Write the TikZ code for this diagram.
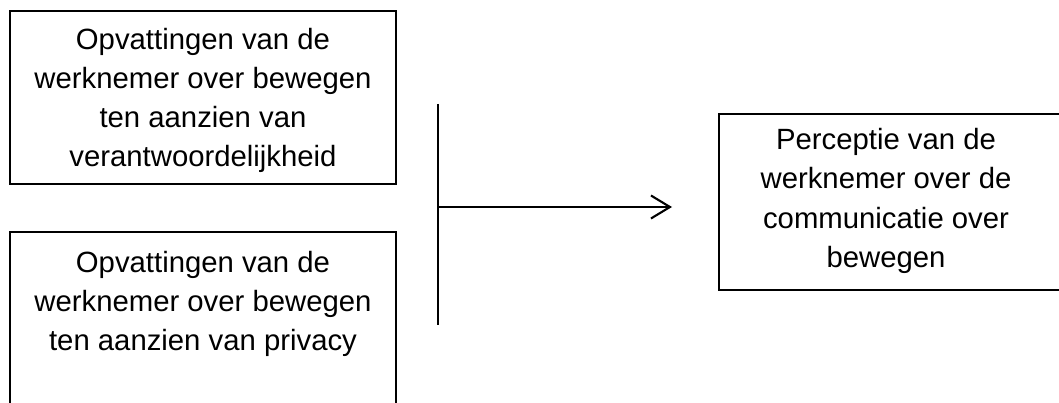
\documentclass[tikz,border=0pt]{standalone}
\usepackage{fontspec}
\setmainfont{Liberation Sans}
\usetikzlibrary{arrows.meta}
\begin{document}
\begin{tikzpicture}[x=1pt,y=-1pt,
  frame/.style={line width=1.8pt},
  label/.style={anchor=base,align=center,inner sep=0pt,
    font=\fontsize{29.3}{39}\selectfont},
  link/.style={line width=2.1pt}]
\useasboundingbox (0,0) rectangle (1059,403);
% frames of the three boxes (texts are set on the baseline of their last line)
\draw[frame] (10,11) rectangle (396,184);
\node[label] (vv) at (203,167) {Opvattingen van de\\werknemer over bewegen\\ten aanzien van\\verantwoordelijkheid};
\draw[frame] (10,420) |- (396,232) -- (396,420);
\node[label] (pv) at (203,350) {Opvattingen van de\\werknemer over bewegen\\ten aanzien van privacy};
\draw[frame] (1070,114) -| (719,290) -- (1070,290);
\node[label] (pc) at (886,267) {Perceptie van de\\werknemer over de\\communicatie over\\bewegen};
% joining bar and arrow
\coordinate (bt) at (438,104);
\coordinate (bb) at (438,325);
\coordinate (bm) at (438,207);
\coordinate (tip) at (672,207);
\draw[link] (bt) -- (bb);
\draw[link,-{Straight Barb[length=19pt,width=23pt,line width=2.1pt]}] (bm) -- (tip);
\end{tikzpicture}
\end{document}
